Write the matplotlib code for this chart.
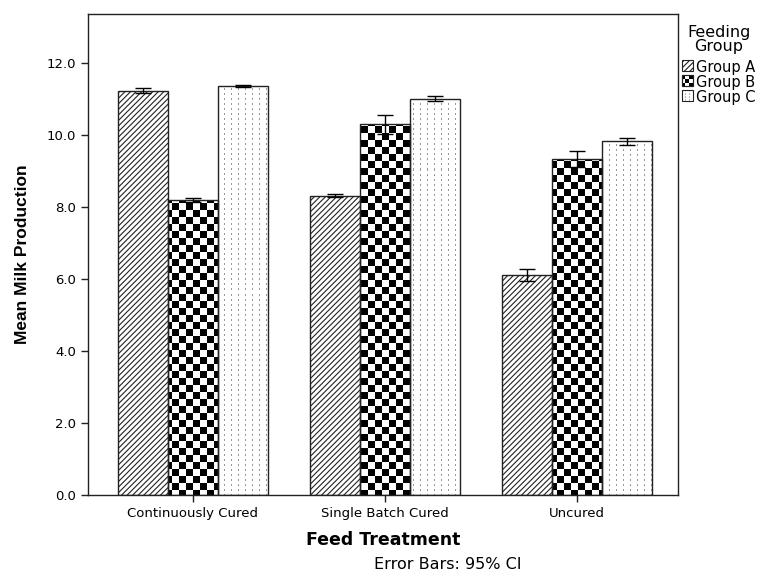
import numpy as np
import matplotlib
matplotlib.use("Agg")
import matplotlib.pyplot as plt
from matplotlib.patches import Rectangle
from matplotlib.legend_handler import HandlerBase

plt.rcParams['font.family'] = ['DejaVu Sans']
plt.rcParams['hatch.linewidth'] = 0.8
plt.rcParams['hatch.color'] = '#333333'

categories = ["Continuously Cured", "Single Batch Cured", "Uncured"]
groups = ["Group A", "Group B", "Group C"]
means = {
    "Group A": [11.23, 8.31, 6.11],
    "Group B": [8.19, 10.30, 9.33],
    "Group C": [11.36, 11.01, 9.82],
}
ci = {
    "Group A": [0.07, 0.04, 0.18],
    "Group B": [0.05, 0.26, 0.22],
    "Group C": [0.04, 0.08, 0.10],
}
yticks = [0.0, 2.0, 4.0, 6.0, 8.0, 10.0, 12.0]

fig = plt.figure(figsize=(7.61, 5.82), dpi=100)
ax = fig.add_axes([0.1156, 0.1495, 0.7754, 0.8265])

x = np.arange(len(categories))
w = 0.26
offsets = [-w, 0, w]
xlim = (-0.545, 2.525)
ylim = (0, 13.36)
ax.set_xlim(*xlim)
ax.set_ylim(*ylim)

containers = []
for g, off in zip(groups, offsets):
    hatch = '//////' if g == "Group A" else None
    fc = 'white' if g == "Group A" else 'none'
    bc = ax.bar(x + off, means[g], width=w, facecolor=fc, edgecolor='#222222',
                linewidth=1.0, hatch=hatch, zorder=2)
    containers.append(bc)
    ax.errorbar(x + off, means[g], yerr=ci[g], fmt='none', ecolor='black',
                elinewidth=1.0, capsize=6, capthick=1.0, zorder=5)

# textures
W_px, H_px = 590, 481
yy, xx = np.mgrid[0:H_px, 0:W_px]
cell = 7
checker = (((xx // cell) + (yy // cell)) % 2).astype(float)
checker_rgb = np.stack([1 - checker] * 3, axis=-1)
dots = np.ones((H_px, W_px, 3))
mask = ((xx % 7) == 3) & ((yy % 5) < 2)
dots[mask] = 0.6

for tex, bc in ((checker_rgb, containers[1]), (dots, containers[2])):
    for bar in bc:
        im = ax.imshow(tex, extent=(xlim[0], xlim[1], ylim[0], ylim[1]), origin='upper',
                       interpolation='nearest', aspect='auto', zorder=1.5)
        im.set_clip_path(bar)
ax.set_xlim(*xlim)
ax.set_ylim(*ylim)
ax.set_aspect('auto')

for s in ax.spines.values():
    s.set_linewidth(1.0)
    s.set_color('#222222')

ax.set_yticks(yticks)
ax.set_yticklabels([f"{v:.1f}" for v in yticks], fontsize=9.5)
ax.set_xticks(x)
ax.set_xticklabels(categories, fontsize=9.5)
ax.tick_params(axis='both', direction='out', length=5, width=1, colors='#222222', labelcolor='black')

ax.set_ylabel("Mean Milk Production", fontsize=12.5, fontweight='bold', labelpad=12,
              family=['Liberation Sans'])
ax.set_xlabel("Feed Treatment", fontsize=12.5, fontweight='bold', labelpad=8)

fig.text(0.588, 0.030, "Error Bars: 95% CI", ha='center', va='center', fontsize=11.5)

class TexHandler(HandlerBase):
    def __init__(self, kind):
        super().__init__()
        self.kind = kind
    def create_artists(self, legend, orig, xd, yd, width, height, fontsize, trans):
        arts = []
        if self.kind == 'A':
            r = Rectangle((xd, yd), width, height, facecolor='white', edgecolor='#222222',
                          hatch='//////', lw=0.8, transform=trans)
            arts.append(r)
        elif self.kind == 'B':
            r = Rectangle((xd, yd), width, height, facecolor='white', edgecolor='#222222', lw=0.8, transform=trans)
            arts.append(r)
            n = 3
            cw, ch = width / n, height / n
            for i in range(n):
                for j in range(n):
                    if (i + j) % 2 == 0:
                        arts.append(Rectangle((xd + i * cw, yd + j * ch), cw, ch, facecolor='black',
                                              edgecolor='none', transform=trans))
            arts.append(Rectangle((xd, yd), width, height, facecolor='none', edgecolor='#222222', lw=0.8, transform=trans))
        else:
            r = Rectangle((xd, yd), width, height, facecolor='white', edgecolor='#222222', lw=0.8, transform=trans)
            arts.append(r)
            for k in (0.33, 0.67):
                arts.append(plt.Line2D([xd + k * width] * 2, [yd + 0.1 * height, yd + 0.9 * height],
                                       color='#888888', lw=0.8, ls=':', transform=trans))
        return arts

handles = [Rectangle((0, 0), 1, 1) for _ in groups]
kinds = ['A', 'B', 'C']
leg = fig.legend(handles, groups, handler_map={h: TexHandler(k) for h, k in zip(handles, kinds)},
                 loc='upper left', bbox_to_anchor=(0.8956, 0.957), frameon=False,
                 title="Feeding\nGroup", fontsize=10.5, title_fontsize=11.5,
                 handlelength=0.8, handleheight=0.8, handletextpad=0.2, labelspacing=0.0,
                 borderaxespad=0.0, borderpad=0.0)
leg.get_title().set_multialignment('center')
leg.get_title().set_linespacing(0.95)
leg._legend_box.sep = 4

fig.savefig("out.png", dpi=100)
